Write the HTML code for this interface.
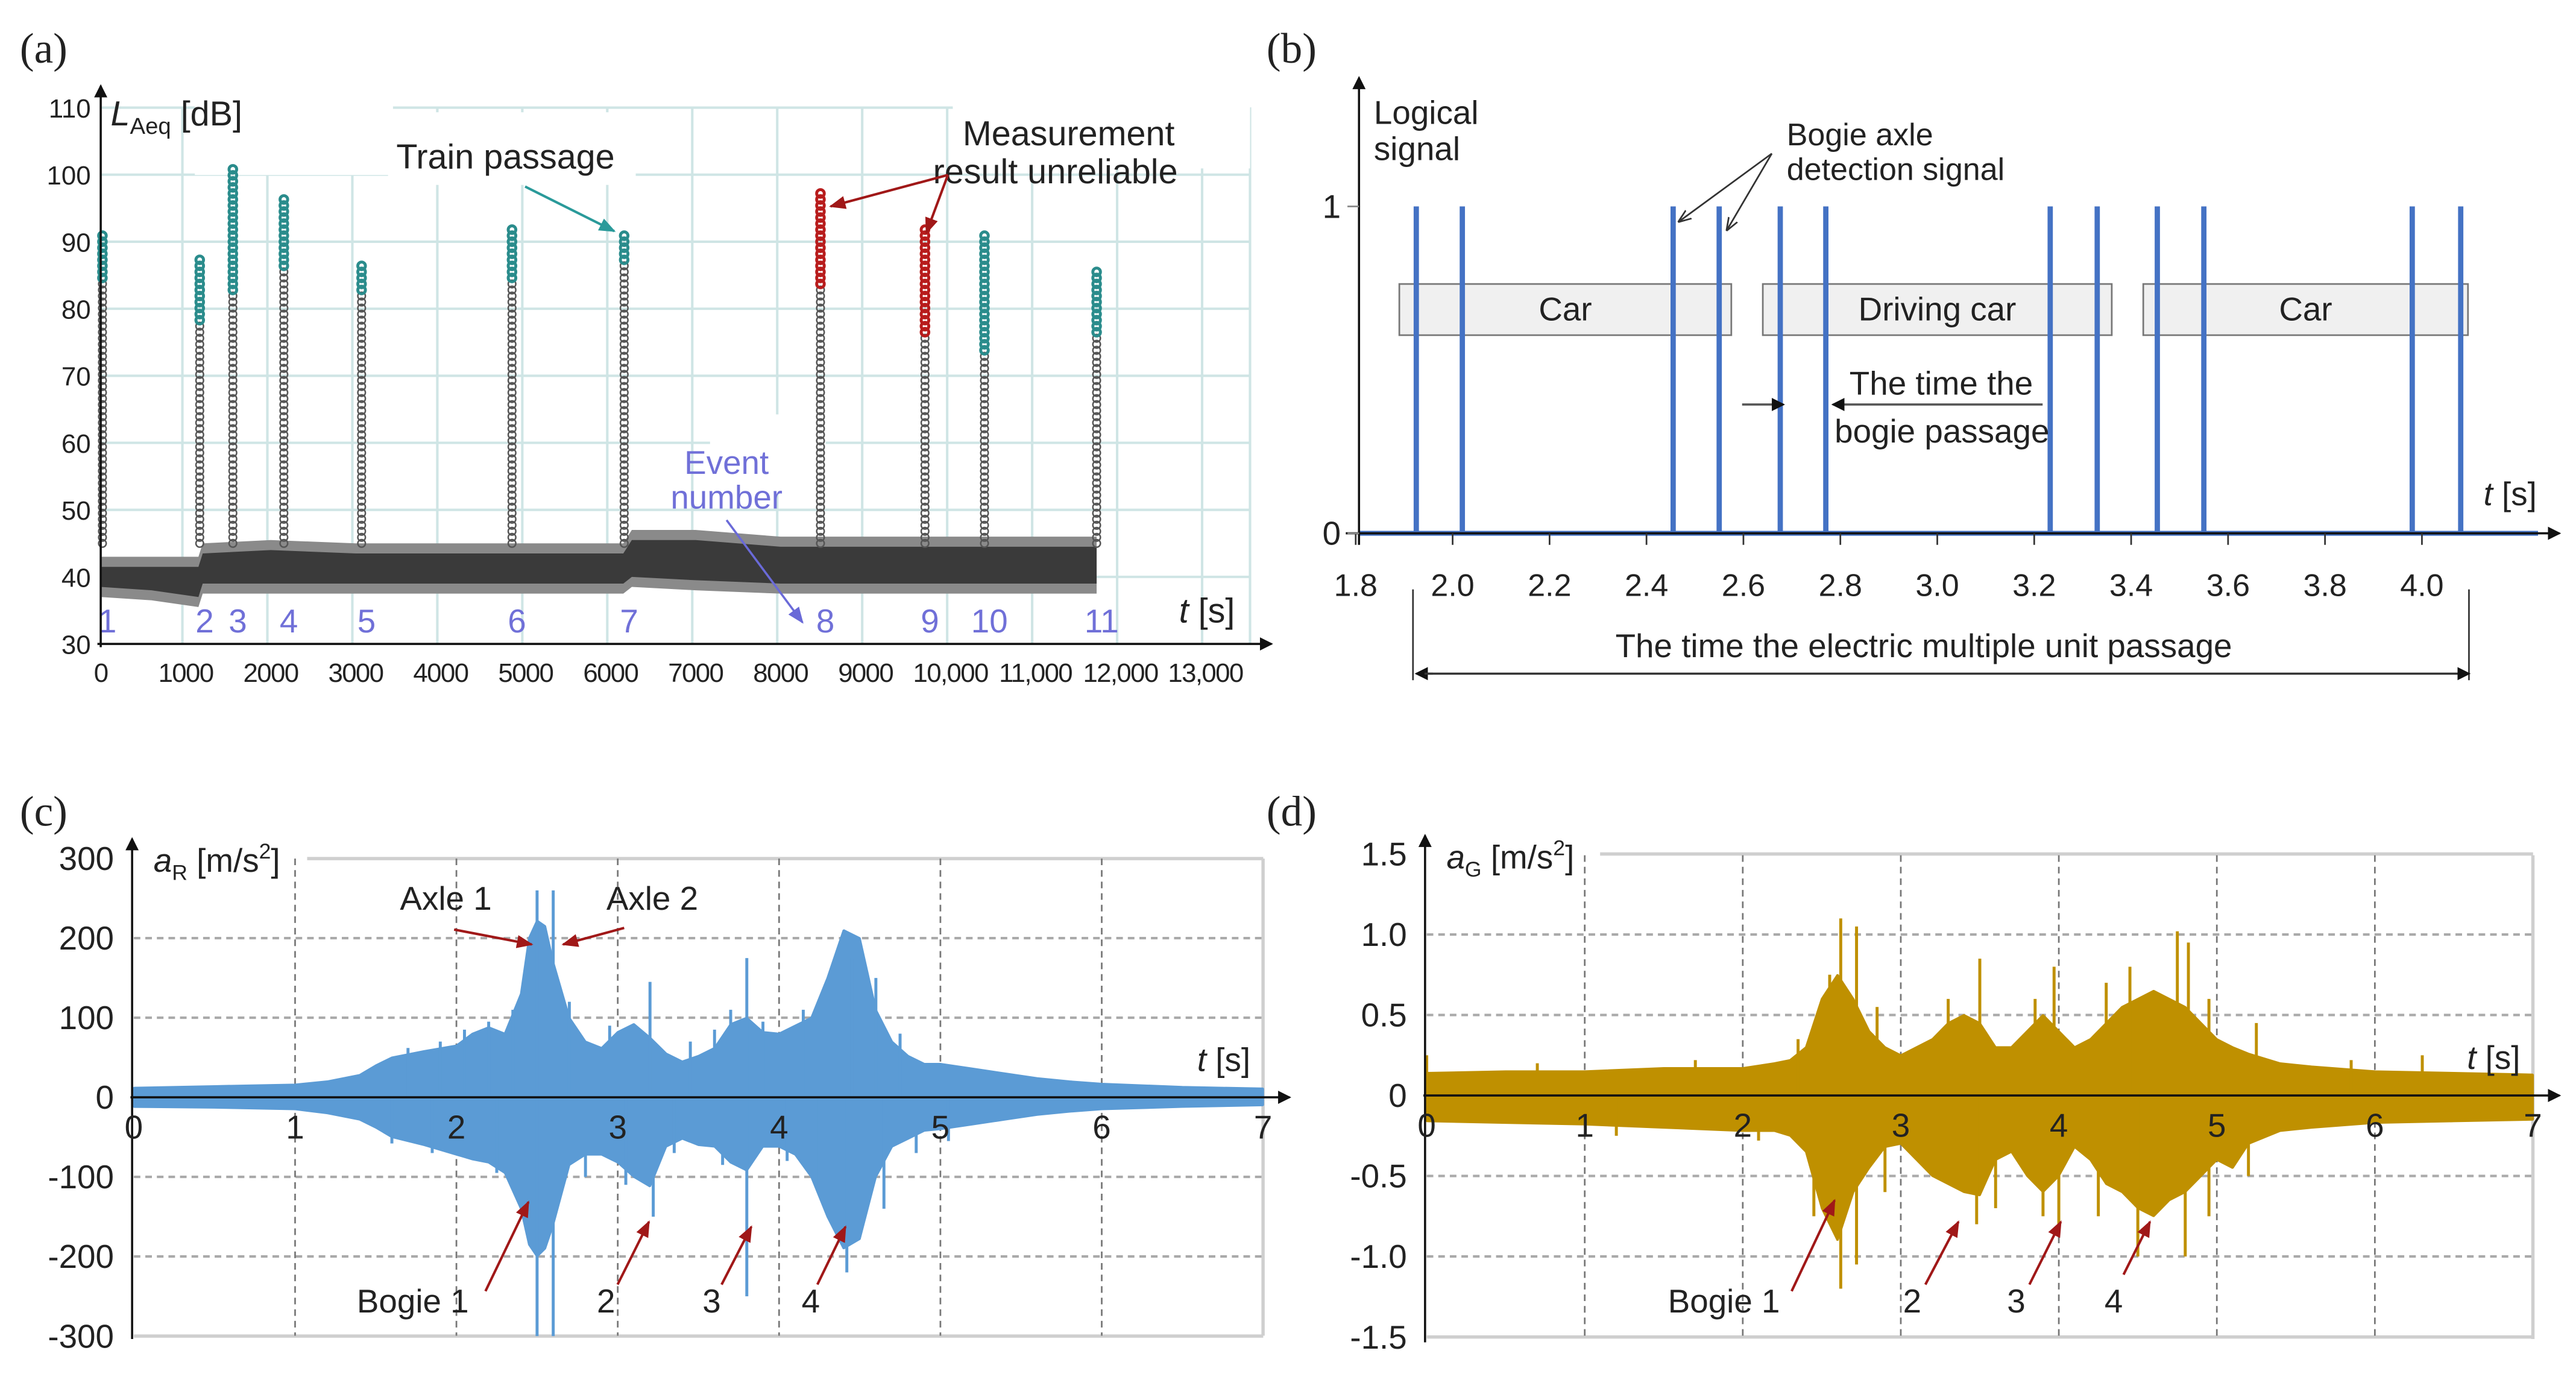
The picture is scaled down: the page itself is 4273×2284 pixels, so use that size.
<!DOCTYPE html>
<html><head><meta charset="utf-8"><style>
html,body{margin:0;padding:0;background:#fff}
svg{display:block}
text{font-family:"Liberation Sans Narrow","Liberation Sans",sans-serif;fill:#222}
.ser{font-family:"Liberation Serif",serif}
</style></head><body>
<svg id="fig" xmlns="http://www.w3.org/2000/svg" width="4273" height="2284" viewBox="0 0 1560 834" preserveAspectRatio="none">
<defs>
<marker id="ah" markerWidth="8" markerHeight="8" refX="7" refY="4" orient="auto" markerUnits="userSpaceOnUse"><path d="M0,0 L8,4 L0,8 z" fill="#111"/></marker>
<marker id="ahr" markerWidth="10" markerHeight="10" refX="9" refY="5" orient="auto" markerUnits="userSpaceOnUse"><path d="M0,1 L10,5 L0,9 z" fill="#a01818"/></marker>
<marker id="aht" markerWidth="10" markerHeight="10" refX="9" refY="5" orient="auto" markerUnits="userSpaceOnUse"><path d="M0,1 L10,5 L0,9 z" fill="#2a9a9a"/></marker>
<marker id="ahp" markerWidth="10" markerHeight="10" refX="9" refY="5" orient="auto" markerUnits="userSpaceOnUse"><path d="M0,1 L10,5 L0,9 z" fill="#6a6ad8"/></marker>
<marker id="ahk" markerWidth="8" markerHeight="8" refX="7" refY="4" orient="auto" markerUnits="userSpaceOnUse"><path d="M0,1 L8,4 L0,7" fill="none" stroke="#333" stroke-width="1"/></marker>
</defs>
<g id="pa"></g>
<g id="pb"></g>
<g id="pc"></g>
<g id="pd"></g>
</svg>
<script>
// ---------- Panel (a) data ----------
const aTicksX = [0,1000,2000,3000,4000,5000,6000,7000,8000,9000,10000,11000,12000,13000];
const aTickLabelsX = ["0","1000","2000","3000","4000","5000","6000","7000","8000","9000","10,000","11,000","12,000","13,000"];
const aTicksY = [30,40,50,60,70,80,90,100,110];
const aBandT = [0,600,1150,1200,2000,3000,4000,5000,6150,6250,7000,8000,9000,10000,11000,11720];
const aBandLow = [37,36.5,35.5,37.5,37.5,37.5,37.5,37.5,37.5,38.5,38,37.5,37.5,37.5,37.5,37.5];
const aBandHigh = [43,43,43,45,45.5,45,45,45,45,47,47,46,46,46,46,46];
const aEventT = [20,1165,1555,2155,3070,4840,6160,8470,9700,10400,11720];
const aEventPeak = [91,88,101,97,87,92,91,98,92,91,86];
const aEventColorFrom = [84,78,82,86,82,84,87,83,76,73,76];
const aEventRed = [0,0,0,0,0,0,0,1,1,0,0];
const aEventLabels = ["1","2","3","4","5","6","7","8","9","10","11"];
// ---------- Panel (b) data ----------
const bTicks = [1.8,2.0,2.2,2.4,2.6,2.8,3.0,3.2,3.4,3.6,3.8,4.0];
const bAxleT = [1.925,2.02,2.455,2.55,2.676,2.77,3.233,3.33,3.454,3.55,3.98,4.08];
const bAxleVal = [1,1,1,1,1,1,1,1,1,1,1,1];
const bCarNames = ["Car","Driving car","Car"];
const bCarStart = [1.89,2.64,3.425];
const bCarEnd = [2.575,3.36,4.095];
// ---------- Panel (c) data ----------
const cTicksY = [-300,-200,-100,0,100,200,300];
const cTicksX = [0,1,2,3,4,5,6,7];
const cEnvT = [0,0.5,1,1.2,1.4,1.5,1.6,1.8,2,2.1,2.2,2.3,2.4,2.45,2.5,2.55,2.6,2.7,2.8,2.9,3,3.1,3.2,3.3,3.4,3.5,3.6,3.7,3.8,3.9,4,4.1,4.2,4.3,4.4,4.5,4.6,4.7,4.8,4.9,5,5.2,5.4,5.6,5.8,6,6.5,7];
const cEnvHi = [12,14,16,20,28,40,50,58,65,80,88,80,130,200,222,215,170,100,70,62,82,92,75,55,45,52,62,92,100,82,80,90,100,150,210,200,110,70,52,42,42,36,30,24,20,17,13,11];
const cEnvLo = [-12,-13,-15,-20,-28,-38,-50,-60,-72,-78,-82,-95,-140,-185,-200,-190,-160,-85,-72,-72,-82,-100,-112,-62,-52,-60,-62,-82,-92,-62,-62,-72,-100,-150,-190,-178,-100,-62,-52,-42,-40,-34,-28,-22,-18,-15,-12,-10];
const cSpikeT = [2.5,2.6,2.5,2.6,3.2,3.22,3.8,3.8,4.45,4.42,2.2,3.05,1.7,1.9,2.05,2.35,2.7,2.95,3.45,3.6,3.7,3.9,4.15,4.6,4.75,1.6,1.85,2.25,2.8,3.35,3.65,4.05,4.25,4.65,4.85,5.05];
const cSpikeV = [260,260,-300,-300,145,-150,175,-250,175,-220,95,-110,62,70,85,110,120,90,70,85,110,95,110,150,80,-58,-70,-95,-100,-70,-85,-80,-110,-140,-70,-55];
// ---------- Panel (d) data ----------
const dTicksY = [-1.5,-1.0,-0.5,0,0.5,1.0,1.5];
const dTickLabelsY = ["-1.5","-1.0","-0.5","0","0.5","1.0","1.5"];
const dTicksX = [0,1,2,3,4,5,6,7];
const dEnvT = [0,0.5,1,1.5,2,2.2,2.3,2.4,2.5,2.6,2.7,2.8,2.9,3,3.1,3.2,3.3,3.4,3.5,3.6,3.7,3.8,3.9,4,4.1,4.2,4.3,4.4,4.5,4.6,4.7,4.8,4.9,5,5.1,5.2,5.4,5.6,6,6.5,7];
const dEnvHi = [0.14,0.15,0.15,0.17,0.17,0.2,0.22,0.3,0.6,0.75,0.6,0.4,0.3,0.25,0.3,0.35,0.45,0.5,0.45,0.3,0.3,0.4,0.5,0.4,0.3,0.35,0.45,0.55,0.6,0.65,0.6,0.55,0.45,0.35,0.3,0.26,0.2,0.18,0.15,0.14,0.13];
const dEnvLo = [-0.16,-0.17,-0.18,-0.2,-0.22,-0.22,-0.25,-0.35,-0.7,-0.9,-0.6,-0.45,-0.32,-0.3,-0.4,-0.5,-0.55,-0.6,-0.62,-0.4,-0.35,-0.5,-0.6,-0.5,-0.32,-0.4,-0.55,-0.6,-0.7,-0.75,-0.65,-0.6,-0.5,-0.4,-0.45,-0.3,-0.22,-0.2,-0.17,-0.16,-0.15];
const dSpikeT = [2.62,2.72,3.5,3.97,4.45,4.75,4.82,2.62,2.72,3.48,4.0,4.5,4.8,0.0,0.7,1.7,2.35,2.55,2.85,3.3,3.85,4.3,4.95,5.25,5.85,6.3,2.45,2.9,3.6,3.9,4.25,4.95,5.2,1.2,2.1];
const dSpikeV = [1.1,1.05,0.85,0.8,0.8,1.02,0.95,-1.2,-1.05,-0.8,-0.85,-1.0,-1.0,0.25,0.2,0.22,0.35,0.75,0.55,0.6,0.6,0.7,0.6,0.45,0.22,0.25,-0.75,-0.6,-0.7,-0.75,-0.75,-0.75,-0.5,-0.25,-0.28];

const NS = "http://www.w3.org/2000/svg";
function mk(tag, attrs, parent){ const e=document.createElementNS(NS,tag); for(const k in attrs) e.setAttribute(k,attrs[k]); parent.appendChild(e); return e; }
function txt(s, attrs, parent){ const e=mk('text',attrs,parent); e.textContent=s; return e; }
const pa=document.getElementById('pa'), pb=document.getElementById('pb'), pc=document.getElementById('pc'), pd=document.getElementById('pd');

// ================= Panel (a) =================
const ax = t => 61 + t*0.05146;
const ay = v => 390 - (v-30)*4.06;
let e;
e=txt("(a)",{x:12,y:38,'font-size':26,class:'ser'},pa);
 
for(const v of aTicksY){ if(v===30) continue;
  e=mk('line',{x1:61,x2:757,y1:ay(v),y2:ay(v),stroke:'#cfe5e5','stroke-width':1.5},pa);
    }
for(const t of aTicksX){ if(t===0) continue;
  e=mk('line',{x1:ax(t)-2,x2:ax(t)-2,y1:65,y2:390,stroke:'#cfe5e5','stroke-width':1.5},pa);
    }
e=mk('line',{x1:757,x2:757,y1:65,y2:390,stroke:'#cfe5e5','stroke-width':1.5},pa);
 
[[118,76,120],[235,82,150],[577,72,180],[430,265,70]].forEach(b=>{
  e=mk('rect',{x:b[0],y:b[1]-14,width:b[2],height:b[1]>200?48:44,fill:'#fff'},pa);
   });
let up=aBandT.map((t,i)=>ax(t)+','+ay(aBandHigh[i])).join(' ');
let lo=aBandT.map((t,i)=>ax(t)+','+ay(aBandLow[i])).reverse().join(' ');
e=mk('polygon',{points:up+' '+lo,fill:'#8a8a8a'},pa);
 
up=aBandT.map((t,i)=>ax(t)+','+ay(aBandHigh[i]-1.5)).join(' ');
lo=aBandT.map((t,i)=>ax(t)+','+ay(aBandLow[i]+1.5)).reverse().join(' ');
e=mk('polygon',{points:up+' '+lo,fill:'#3a3a3a'},pa);
 
aEventT.forEach((t,i)=>{
  const g=mk('g',{},pa);
   
  for(let v=45; v<=aEventPeak[i]; v+=0.9){
    const col = v>=aEventColorFrom[i] ? (aEventRed[i]?'#b81c1c':'#2a8c8c') : '#555';
    const c=mk('circle',{cx:ax(t),cy:ay(v),r:2.3,fill:'none',stroke:col,'stroke-width':v>=aEventColorFrom[i]?1.8:0.9},g);
     
  }
  e=txt(aEventLabels[i],{x:ax(t)+3,y:383,'font-size':20,'text-anchor':'middle',style:'fill:#7070d8'},pa);
   
});
e=mk('line',{x1:61,y1:392,x2:61,y2:52,stroke:'#111','stroke-width':1.3,'marker-end':'url(#ah)'},pa);
 
e=mk('line',{x1:59,y1:390,x2:770,y2:390,stroke:'#111','stroke-width':1.3,'marker-end':'url(#ah)'},pa);
 
aTicksY.forEach(v=>{ e=txt(String(v),{x:55,y:ay(v)+6,'font-size':16,'text-anchor':'end'},pa);
   });
aTicksX.forEach((t,i)=>{ e=txt(aTickLabelsX[i],{x:ax(t),y:413,'font-size':16,'text-anchor':'middle','letter-spacing':-0.6},pa);
   });
e=txt("",{x:67,y:76,'font-size':21},pa);
e.innerHTML='<tspan font-style="italic">L</tspan><tspan font-size="14" dy="5">Aeq</tspan><tspan dy="-5"> [dB]</tspan>';
 
e=txt("",{x:714,y:377,'font-size':21},pa);
e.innerHTML='<tspan font-style="italic">t</tspan> [s]';
 
e=txt("Train passage",{x:240,y:102,'font-size':21},pa);
 
e=mk('line',{x1:318,y1:113,x2:372,y2:140,stroke:'#2a9a9a','stroke-width':1.5,'marker-end':'url(#aht)'},pa);
 
e=txt("Measurement",{x:583,y:88,'font-size':21},pa);
 
e=txt("result unreliable",{x:565,y:111,'font-size':21},pa);
 
e=mk('line',{x1:574,y1:106,x2:503,y2:125,stroke:'#a01818','stroke-width':1.5,'marker-end':'url(#ahr)'},pa);
 
e=mk('line',{x1:574,y1:106,x2:561,y2:141,stroke:'#a01818','stroke-width':1.5,'marker-end':'url(#ahr)'},pa);
 
e=txt("Event",{x:440,y:287,'font-size':20,'text-anchor':'middle',style:'fill:#7070d8'},pa);
 
e=txt("number",{x:440,y:308,'font-size':20,'text-anchor':'middle',style:'fill:#7070d8'},pa);
 
e=mk('line',{x1:440,y1:315,x2:486,y2:377,stroke:'#6a6ad8','stroke-width':1.3,'marker-end':'url(#ahp)'},pa);
 

// ================= Panel (b) =================
const bx = t => 821 + (t-1.8)/0.2*58.7;
const by = v => 323 - v*198;
e=txt("(b)",{x:767,y:38,'font-size':26,class:'ser'},pb);
 
bCarNames.forEach((n,i)=>{
  e=mk('rect',{x:bx(bCarStart[i]),y:172,width:bx(bCarEnd[i])-bx(bCarStart[i]),height:31,fill:'#f0f0f0',stroke:'#777','stroke-width':1},pb);
   
  e=txt(n,{x:(bx(bCarStart[i])+bx(bCarEnd[i]))/2,y:194,'font-size':20,'text-anchor':'middle'},pb);
   
});
e=mk('line',{x1:823,y1:by(0),x2:1537,y2:by(0),stroke:'#4472c4','stroke-width':3},pb);
 
bAxleT.forEach((t,i)=>{
  e=mk('line',{x1:bx(t),x2:bx(t),y1:by(0),y2:by(bAxleVal[i]),stroke:'#4472c4','stroke-width':3.2},pb);
   
});
e=mk('line',{x1:823,y1:330,x2:823,y2:47,stroke:'#111','stroke-width':1.3,'marker-end':'url(#ah)'},pb);
 
e=mk('line',{x1:815,y1:323,x2:1550,y2:323,stroke:'#111','stroke-width':1.3,'marker-end':'url(#ah)'},pb);
 
bTicks.forEach(t=>{
  e=mk('line',{x1:bx(t),x2:bx(t),y1:323,y2:330,stroke:'#333','stroke-width':1},pb);
   
  e=txt(t.toFixed(1),{x:bx(t),y:361,'font-size':19,'text-anchor':'middle'},pb);
   
});
[[1,125],[0,323]].forEach(p=>{
  e=mk('line',{x1:816,x2:823,y1:p[1],y2:p[1],stroke:'#888','stroke-width':1},pb);
   
  e=txt(String(p[0]),{x:812,y:p[1]+7,'font-size':20,'text-anchor':'end'},pb);
   
});
e=txt("Logical",{x:832,y:75,'font-size':20},pb);
 
e=txt("signal",{x:832,y:97,'font-size':20},pb);
 
e=txt("",{x:1504,y:306,'font-size':20},pb);
e.innerHTML='<tspan font-style="italic">t</tspan> [s]';
 
e=txt("Bogie axle",{x:1082,y:88,'font-size':19},pb);
 
e=txt("detection signal",{x:1082,y:109,'font-size':19},pb);
 
e=mk('line',{x1:1073,y1:93,x2:1017,y2:134,stroke:'#333','stroke-width':1,'marker-end':'url(#ahk)'},pb);
 
e=mk('line',{x1:1073,y1:93,x2:1046,y2:139,stroke:'#333','stroke-width':1,'marker-end':'url(#ahk)'},pb);
 
e=txt("The time the",{x:1120,y:239,'font-size':20},pb);
 
e=txt("bogie passage",{x:1111,y:268,'font-size':20},pb);
 
e=mk('line',{x1:1055,y1:245,x2:1080,y2:245,stroke:'#555','stroke-width':1.3,'marker-end':'url(#ah)'},pb);
 
e=mk('line',{x1:1237,y1:245,x2:1110,y2:245,stroke:'#555','stroke-width':1.3,'marker-end':'url(#ah)'},pb);
 
e=mk('line',{x1:bx(bAxleT[0])-2,x2:bx(bAxleT[0])-2,y1:357,y2:412,stroke:'#333','stroke-width':1},pb);
 
e=mk('line',{x1:bx(bAxleT[11])+5,x2:bx(bAxleT[11])+5,y1:357,y2:412,stroke:'#333','stroke-width':1},pb);
 
e=mk('line',{x1:bx(bAxleT[0])+10,y1:408,x2:bx(bAxleT[0]),y2:408,stroke:'#333','stroke-width':1.3,'marker-end':'url(#ah)'},pb);
 
e=mk('line',{x1:bx(bAxleT[0])+5,y1:408,x2:bx(bAxleT[11])+5,y2:408,stroke:'#333','stroke-width':1.3,'marker-end':'url(#ah)'},pb);
 
e=txt("The time the electric multiple unit passage",{x:1165,y:398,'font-size':20,'text-anchor':'middle'},pb);
 

// ================= Panels (c),(d) =================
function wave(g, name, X, Y, x0, x1, yTop, yBot, ticksY, labelsY, ticksX, envT, hi, lo, spT, spV, color, ylab){
  ticksY.forEach((v,i)=>{
    const edge = (i===0||i===ticksY.length-1);
    if(v===0) return;
    e=mk('line',{x1:edge&&i>0?x0+105:x0,x2:x1,y1:Y(v),y2:Y(v),stroke:edge?'#cfcfcf':'#aaa','stroke-width':edge?2:1.5,'stroke-dasharray':edge?'':'4,3'},g);
     
  });
  ticksX.forEach((t,i)=>{ if(t===0) return;
    const edge = i===ticksX.length-1;
    e=mk('line',{x1:X(t),x2:X(t),y1:yTop,y2:yBot,stroke:edge?'#cfcfcf':'#777','stroke-width':edge?2:1,'stroke-dasharray':edge?'':'4,3'},g);
     
  });
  const pts = envT.map((t,i)=>X(t)+','+Y(hi[i])).concat(envT.map((t,i)=>X(t)+','+Y(lo[i])).reverse());
  e=mk('polygon',{points:pts.join(' '),fill:color,stroke:color,'stroke-width':1.2,'stroke-linejoin':'bevel'},g);
   
  spT.forEach((t,i)=>{
    e=mk('line',{x1:X(t),x2:X(t),y1:Y(0),y2:Y(spV[i]),stroke:color,'stroke-width':1.8},g);
     
  });
  e=mk('line',{x1:x0-1,y1:yBot+2,x2:x0-1,y2:yTop-12,stroke:'#111','stroke-width':1.3,'marker-end':'url(#ah)'},g);
   
  e=mk('line',{x1:x0-2,y1:Y(0),x2:x1+16,y2:Y(0),stroke:'#111','stroke-width':1.3,'marker-end':'url(#ah)'},g);
   
  ticksY.forEach((v,i)=>{
    e=txt(labelsY[i],{x:x0-12,y:Y(v)+7,'font-size':20,'text-anchor':'end'},g);
     
  });
  ticksX.forEach(t=>{
    e=txt(String(t),{x:X(t),y:Y(0)+25,'font-size':20,'text-anchor':'middle'},g);
     
  });
  e=txt("",{x:x0+12,y:yTop+8,'font-size':20},g);
  e.innerHTML='<tspan font-style="italic">a</tspan><tspan font-size="13" dy="5">'+ylab+'</tspan><tspan dy="-5"> [m/s</tspan><tspan font-size="13" dy="-8">2</tspan><tspan dy="8">]</tspan>';
   
  e=txt("",{x:x1-40,y:Y(0)-16,'font-size':20},g);
  e.innerHTML='<tspan font-style="italic">t</tspan> [s]';
   
}
const cX = t => 81 + t*97.7, cY = v => 664.6 - v*0.482;
wave(pc,'c',cX,cY,81,765,520,809,cTicksY,cTicksY.map(String),cTicksX,cEnvT,cEnvHi,cEnvLo,cSpikeT,cSpikeV,'#5b9bd5','R');
const dX = t => 864 + t*95.7, dY = v => 663.5 - v*97.5;
wave(pd,'d',dX,dY,864,1534,518,811,dTicksY,dTickLabelsY,dTicksX,dEnvT,dEnvHi,dEnvLo,dSpikeT,dSpikeV,'#bf9000','G');

e=txt("(c)",{x:12,y:500,'font-size':26,class:'ser'},pc);
 
e=txt("(d)",{x:767,y:500,'font-size':26,class:'ser'},pd);
 

function ann(g,s,x,y,ax1,ay1,ax2,ay2,nm){
  e=txt(s,{x:x,y:y,'font-size':20,'text-anchor':'middle'},g);
   
  e=mk('line',{x1:ax1,y1:ay1,x2:ax2,y2:ay2,stroke:'#a01818','stroke-width':1.5,'marker-end':'url(#ahr)'},g);
   
}
ann(pc,"Axle 1",270,551,275,563,322,572,'c-axle-1');
ann(pc,"Axle 2",395,551,378,562,341,572,'c-axle-2');
ann(pc,"Bogie 1",250,795,294,782,320,728,'c-bogie-1');
ann(pc,"2",367,795,374,778,393,740,'c-bogie-2');
ann(pc,"3",431,795,437,778,455,743,'c-bogie-3');
ann(pc,"4",491,795,495,778,512,743,'c-bogie-4');
ann(pd,"Bogie 1",1044,795,1085,782,1111,727,'d-bogie-1');
ann(pd,"2",1158,795,1166,778,1186,740,'d-bogie-2');
ann(pd,"3",1221,795,1229,778,1248,740,'d-bogie-3');
ann(pd,"4",1280,795,1286,772,1302,740,'d-bogie-4');
</script>
</body></html>
